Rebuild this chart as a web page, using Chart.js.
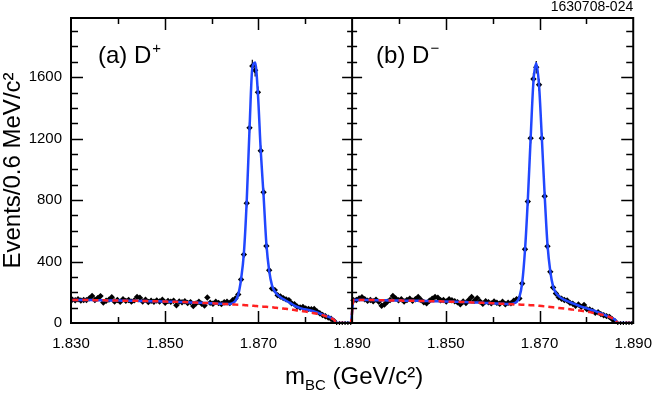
<!DOCTYPE html>
<html>
<head>
<meta charset="utf-8">
<script src="https://cdn.jsdelivr.net/npm/chart.js@4/dist/chart.umd.min.js"></script>
<style>
  html, body { margin: 0; padding: 0; background: #fff; }
</style>
</head>
<body>
<canvas id="chart" width="664" height="393"></canvas>
<script>
// m_BC spectra, 0.6 MeV bins from 1.830 to 1.890 GeV/c^2 (100 bins per panel)
const binWidth = 0.6   // MeV
const panelWidth = 60  // MeV, panel (b) is drawn offset by this

const countsA = [
  152, 148, 155, 146, 150, 149, 160, 176, 150, 162,
  175, 133, 145, 152, 168, 140, 150, 138, 155, 144,
  150, 139, 147, 170, 165, 140, 152, 137, 145, 138,
  146, 140, 151, 132, 143, 138, 145, 116, 140, 135,
  142, 130, 136, 110, 128, 138, 125, 114, 166, 132,
  125, 138, 130, 124, 135, 138, 130, 148, 160, 186,
  283, 445, 780, 1270, 1672, 1645, 1501, 1121, 851, 501,
  343, 225, 214, 181, 172, 162, 154, 149, 128, 122,
  106, 101, 104, 95, 92, 90, 91, 75, 63, 52,
  44, 35, 28, 14, 0, 0, 0, 0, 0, 0
]
const fitA = [
  150, 150, 150, 149, 149, 149, 149, 149, 148, 148,
  148, 148, 147, 147, 147, 146, 146, 146, 145, 145,
  145, 145, 144, 144, 143, 143, 143, 142, 142, 141,
  141, 141, 140, 140, 139, 139, 138, 138, 137, 137,
  136, 135, 134, 134, 133, 132, 131, 130, 130, 129,
  128, 127, 126, 125, 124, 123, 124, 130, 145, 185,
  285, 455, 790, 1260, 1660, 1695, 1490, 1120, 830, 515,
  340, 245, 205, 183, 168, 156, 145, 135, 124, 113,
  104, 97, 92, 88, 84, 80, 75, 69, 62, 55,
  48, 41, 33, 22, 0, 0, 0, 0, 0, 0
]
const bkgA = [
  150, 150, 150, 149, 149, 149, 149, 149, 148, 148,
  148, 148, 147, 147, 147, 146, 146, 146, 145, 145,
  145, 145, 144, 144, 143, 143, 143, 142, 142, 141,
  141, 141, 140, 140, 139, 139, 138, 138, 137, 137,
  136, 135, 134, 134, 133, 132, 131, 130, 130, 129,
  128, 127, 126, 125, 124, 123, 122, 121, 120, 119,
  118, 117, 115, 114, 112, 111, 109, 108, 106, 105,
  103, 102, 100, 98, 96, 94, 92, 90, 87, 85,
  82, 80, 77, 74, 71, 67, 64, 60, 55, 51,
  45, 39, 32, 22, 0, 0, 0, 0, 0, 0
]

const countsB = [
  148, 150, 160, 168, 155, 145, 150, 142, 152, 138,
  112, 120, 138, 150, 176, 160, 148, 155, 140, 150,
  158, 145, 155, 170, 150, 135, 128, 145, 158, 170,
  165, 148, 150, 140, 155, 148, 142, 135, 122, 140,
  130, 150, 170, 145, 162, 140, 125, 142, 135, 128,
  140, 132, 125, 138, 122, 132, 128, 145, 155, 160,
  257, 480, 791, 1203, 1588, 1665, 1551, 1203, 825, 499,
  333, 231, 192, 168, 158, 150, 146, 131, 125, 112,
  120, 105, 117, 90, 88, 80, 66, 70, 58, 50,
  45, 40, 25, 12, 0, 0, 0, 0, 0, 0
]
const fitB = [
  150, 150, 150, 149, 149, 149, 149, 149, 148, 148,
  148, 148, 147, 147, 147, 146, 146, 146, 145, 145,
  145, 145, 144, 144, 143, 143, 143, 142, 142, 141,
  141, 141, 140, 140, 139, 139, 138, 138, 137, 137,
  136, 135, 134, 134, 133, 132, 131, 130, 130, 129,
  128, 127, 126, 125, 124, 123, 124, 128, 137, 168,
  262, 475, 800, 1200, 1570, 1690, 1545, 1200, 830, 510,
  335, 237, 196, 175, 161, 151, 143, 135, 128, 121,
  114, 107, 101, 95, 89, 83, 77, 70, 63, 55,
  47, 40, 32, 22, 0, 0, 0, 0, 0, 0
]
const bkgB = [
  150, 150, 150, 149, 149, 149, 149, 149, 148, 148,
  148, 148, 147, 147, 147, 146, 146, 146, 145, 145,
  145, 145, 144, 144, 143, 143, 143, 142, 142, 141,
  141, 141, 140, 140, 139, 139, 138, 138, 137, 137,
  136, 135, 134, 134, 133, 132, 131, 130, 130, 129,
  128, 127, 126, 125, 124, 123, 122, 121, 120, 120,
  119, 118, 117, 116, 115, 114, 112, 110, 108, 106,
  104, 102, 100, 98, 96, 94, 92, 90, 87, 85,
  82, 80, 77, 74, 71, 67, 64, 60, 55, 51,
  45, 39, 32, 22, 0, 0, 0, 0, 0, 0
]

const xTickValues = [0, 10, 20, 30, 40, 50, 60, 70, 80, 90, 100, 110, 120]
const xTickLabels = ['1.830', '', '1.850', '', '1.870', '', '1.890', '', '1.850', '', '1.870', '', '1.890']
const yTickValues = [0, 400, 800, 1200, 1600]
const yMax = 1985
const yMinorStep = 100
const panelLabels = [['(a) D', '+'], ['(b) D', '\u2212']]
const runId = '1630708-024'

const FONT = '"Liberation Sans", Arial, Helvetica, sans-serif'

function toPoints(vals, offset) {
  return vals.map((v, i) => ({ x: offset + (i + 0.5) * binWidth, y: v }))
}

// vertical sqrt(N) error bars and bin-width horizontal bars
const errorBars = {
  id: 'errorBars',
  beforeDatasetsDraw(chart) {
    const { ctx, chartArea: a, scales: { x, y } } = chart
    ctx.save()
    ctx.beginPath()
    ctx.rect(a.left, a.top, a.right - a.left, a.bottom - a.top + 3)
    ctx.clip()
    ctx.strokeStyle = '#000'
    ctx.lineWidth = 1.2
    ctx.beginPath()
    chart.data.datasets.forEach(ds => {
      if (!ds.isData) return
      ds.data.forEach(p => {
        const px = x.getPixelForValue(p.x)
        const py = y.getPixelForValue(p.y)
        const err = Math.sqrt(p.y)
        ctx.moveTo(x.getPixelForValue(p.x - binWidth / 2), py)
        ctx.lineTo(x.getPixelForValue(p.x + binWidth / 2), py)
        if (p.y > 0) {
          ctx.moveTo(px, y.getPixelForValue(p.y - err))
          ctx.lineTo(px, y.getPixelForValue(p.y + err))
        } else {
          ctx.moveTo(px, py - 2)
          ctx.lineTo(px, py + 2)
        }
      })
    })
    ctx.stroke()
    ctx.restore()
  }
}

// frame, tick marks on all sides, panel divider and the text
const decor = {
  id: 'decor',
  afterDraw(chart) {
    const { ctx, chartArea: a, scales: { x, y } } = chart
    const mid = x.getPixelForValue(panelWidth)
    ctx.save()
    ctx.strokeStyle = '#000'
    ctx.lineWidth = 2
    ctx.strokeRect(a.left, a.top, a.right - a.left, a.bottom - a.top)
    ctx.beginPath()
    ctx.moveTo(mid, a.top)
    ctx.lineTo(mid, a.bottom)
    ctx.stroke()

    ctx.lineWidth = 1.5
    ctx.beginPath()
    for (let v = yMinorStep; v < yMax; v += yMinorStep) {
      const py = Math.round(y.getPixelForValue(v)) + 0.5
      const major = yTickValues.includes(v)
      const l = major ? 12 : 7
      ctx.moveTo(a.left, py); ctx.lineTo(a.left + l, py)
      ctx.moveTo(a.right, py); ctx.lineTo(a.right - l, py)
      const m = major ? 10 : 5
      ctx.moveTo(mid - m, py); ctx.lineTo(mid + m, py)
    }
    xTickValues.forEach((v, i) => {
      if (v === 0 || v === panelWidth || v === 2 * panelWidth) return
      const px = Math.round(x.getPixelForValue(v)) + 0.5
      const l = xTickLabels[i] ? 12 : 6
      ctx.moveTo(px, a.bottom); ctx.lineTo(px, a.bottom - l)
      ctx.moveTo(px, a.top); ctx.lineTo(px, a.top + l)
    })
    ctx.stroke()

    ctx.fillStyle = '#000'
    ctx.textBaseline = 'alphabetic'
    ctx.textAlign = 'left'

    // panel labels
    const starts = [a.left + 27, mid + 24]
    panelLabels.forEach(([main, sup], i) => {
      ctx.font = '24px ' + FONT
      ctx.fillText(main, starts[i], 63)
      const w = ctx.measureText(main).width
      ctx.font = '15px ' + FONT
      ctx.fillText(sup, starts[i] + w + 1, 53)
    })

    // run id
    ctx.font = '14px ' + FONT
    ctx.textAlign = 'right'
    ctx.fillText(runId, a.right, 11)

    // x title: m_BC (GeV/c²)
    ctx.textAlign = 'left'
    const big = '24px ' + FONT, small = '15px ' + FONT
    ctx.font = big
    const wM = ctx.measureText('m').width
    const rest = ' (GeV/c\u00b2)'
    const wR = ctx.measureText(rest).width
    ctx.font = small
    const wS = ctx.measureText('BC').width
    const tx = (a.left + a.right) / 2 + 2 - (wM + wS + wR) / 2
    ctx.font = big
    ctx.fillText('m', tx, 384)
    ctx.font = small
    ctx.fillText('BC', tx + wM, 390)
    ctx.font = big
    ctx.fillText(rest, tx + wM + wS, 384)

    // y title
    ctx.translate(20, (a.top + a.bottom) / 2)
    ctx.rotate(-Math.PI / 2)
    ctx.textAlign = 'center'
    ctx.font = big
    ctx.fillText('Events/0.6 MeV/c\u00b2', 0, 0)
    ctx.restore()
  }
}

new Chart(document.getElementById('chart'), {
  type: 'scatter',
  data: {
    datasets: [
      {
        label: 'Background',
        data: toPoints(bkgA, 0).concat(toPoints(bkgB, panelWidth)),
        showLine: true,
        borderColor: '#ff2121',
        borderWidth: 2.5,
        borderDash: [6, 4],
        pointRadius: 0,
        cubicInterpolationMode: 'monotone',
        order: 0
      },
      {
        label: 'Fit',
        data: toPoints(fitA, 0).concat(toPoints(fitB, panelWidth)),
        showLine: true,
        borderColor: '#2147ff',
        borderWidth: 2.5,
        pointRadius: 0,
        cubicInterpolationMode: 'monotone',
        order: 1
      },
      {
        label: 'Data',
        isData: true,
        data: toPoints(countsA, 0).concat(toPoints(countsB, panelWidth)),
        pointStyle: 'rectRot',
        pointRadius: c => (c.raw && c.raw.y > 0 ? 3.2 : 0),
        backgroundColor: '#000',
        borderColor: '#000',
        borderWidth: 0,
        order: 2
      }
    ]
  },
  options: {
    responsive: false,
    animation: false,
    devicePixelRatio: 1,
    layout: { padding: { left: 0, right: 20, top: 17, bottom: 0 } },
    plugins: { legend: { display: false }, tooltip: { enabled: false } },
    scales: {
      x: {
        type: 'linear',
        min: 0,
        max: 2 * panelWidth,
        afterBuildTicks: s => { s.ticks = xTickValues.map(v => ({ value: v })) },
        afterFit: s => { s.height = 70 },
        grid: { display: false, drawTicks: false },
        border: { display: false },
        ticks: {
          autoSkip: false,
          maxRotation: 0,
          padding: 12,
          color: '#000',
          font: { family: FONT, size: 15 },
          callback: (v, i) => xTickLabels[i]
        }
      },
      y: {
        min: 0,
        max: yMax,
        afterBuildTicks: s => { s.ticks = yTickValues.map(v => ({ value: v })) },
        afterFit: s => { s.width = 71 },
        grid: { display: false, drawTicks: false },
        border: { display: false },
        ticks: {
          autoSkip: false,
          padding: 9,
          color: '#000',
          font: { family: FONT, size: 15 },
          callback: (v, i) => String(yTickValues[i])
        }
      }
    }
  },
  plugins: [errorBars, decor]
})
</script>
</body>
</html>
